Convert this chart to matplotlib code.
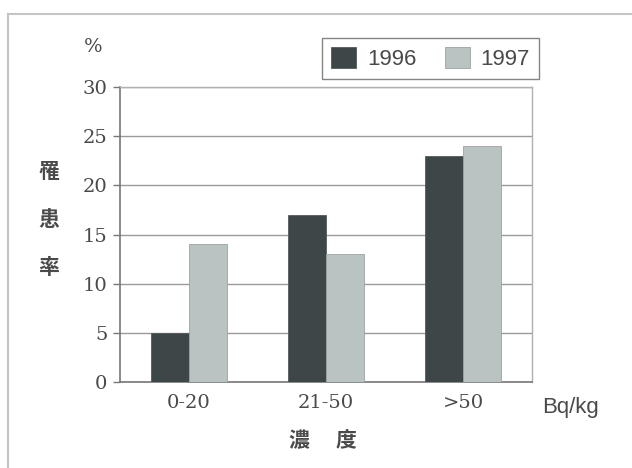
import matplotlib
matplotlib.use("Agg")
import matplotlib.pyplot as plt
from matplotlib.lines import Line2D
import numpy as np

categories = ["0-20", "21-50", ">50"]
series_names = ["1996", "1997"]
values_1996 = [5, 17, 23]
values_1997 = [14, 13, 24]
yticks = [0, 5, 10, 15, 20, 25, 30]

dark = "#3e4748"
light = "#b8c3c2"
grid_c = "#9a9a9a"
text_c = "#4a4a4a"

serif = ["DejaVu Serif", "Liberation Serif"]
sans = ["Liberation Sans", "DejaVu Sans"]
cjk = ["Noto Sans CJK JP", "DejaVu Sans"]

fig = plt.figure(figsize=(6.32, 4.68), dpi=100)
ax = fig.add_axes([120 / 632, 1 - 382 / 468, 412 / 632, 295 / 468])

x = np.arange(len(categories))
w = 0.277
ax.bar(x - w / 2, values_1996, width=w, color=dark, edgecolor="#555b5c",
       linewidth=0.6, zorder=3, label=series_names[0])
ax.bar(x + w / 2, values_1997, width=w, color=light, edgecolor="#9aa3a3",
       linewidth=0.6, zorder=3, label=series_names[1])

ax.set_xlim(-0.5, len(categories) - 0.5)
ax.set_ylim(0, 30)
ax.set_yticks(yticks)
ax.set_yticklabels([str(t) for t in yticks], fontfamily=serif, fontsize=14,
                   color=text_c)
ax.yaxis.grid(True, color=grid_c, linewidth=1.0, zorder=0)
ax.set_xticks(x)
ax.set_xticklabels(categories, fontfamily=serif, fontsize=14, color=text_c)
ax.tick_params(axis="x", length=0, pad=9)
ax.tick_params(axis="y", length=5, width=1.0, color="#777777", pad=4,
               direction="out")

for side in ["top", "right"]:
    ax.spines[side].set_color("#b0b0b0")
    ax.spines[side].set_linewidth(1.0)
for side in ["left", "bottom"]:
    ax.spines[side].set_color("#777777")
    ax.spines[side].set_linewidth(1.2)

# unit labels and axis titles
fig.text(93 / 632, 1 - 47 / 468, "%", fontsize=14, color=text_c,
         ha="center", va="center", family=serif)
for i, ch in enumerate("罹患率"):
    fig.text(49 / 632, 1 - (171 + i * 48) / 468, ch, fontsize=15,
             color=text_c, ha="center", va="center", family=cjk,
             fontweight="bold")
fig.text(299 / 632, 1 - 441 / 468, "濃", fontsize=15, color=text_c,
         ha="center", va="center", family=cjk, fontweight="bold")
fig.text(346 / 632, 1 - 441 / 468, "度", fontsize=15, color=text_c,
         ha="center", va="center", family=cjk, fontweight="bold")
fig.text(571 / 632, 1 - 408 / 468, "Bq/kg", fontsize=16, color=text_c,
         ha="center", va="center", family=sans)

leg = ax.legend(loc="upper right", bbox_to_anchor=(539 / 632, 1 - 38 / 468),
                bbox_transform=fig.transFigure, ncol=2, frameon=True,
                fancybox=False, edgecolor="#666666",
                handlelength=1.1, handleheight=1.1, handletextpad=0.5,
                columnspacing=1.3, borderpad=0.4, borderaxespad=0,
                prop={"family": sans, "size": 16})
for t in leg.get_texts():
    t.set_color(text_c)
leg.get_frame().set_linewidth(1.0)

# outer frame of the figure
fig.add_artist(Line2D([8 / 632, 8 / 632], [0.0, 1 - 14 / 468],
                      transform=fig.transFigure, color="#c4c4c4", lw=1.5))
fig.add_artist(Line2D([8 / 632, 1.0], [1 - 14 / 468, 1 - 14 / 468],
                      transform=fig.transFigure, color="#c4c4c4", lw=1.5))

fig.savefig("out.png", dpi=100)
